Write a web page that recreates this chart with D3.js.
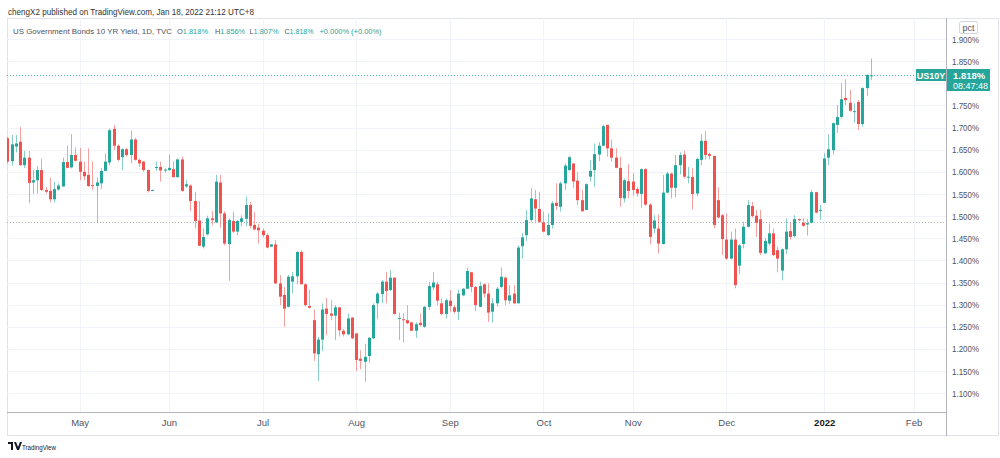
<!DOCTYPE html>
<html><head><meta charset="utf-8">
<script src="https://cdn.jsdelivr.net/npm/d3@7"></script>
<style>
html,body{margin:0;padding:0;background:#fff;}
svg{display:block;font-family:"Liberation Sans",Arial,sans-serif;}
</style></head>
<body><svg id="c" width="1000" height="458"></svg>
<script>
// ---- data (US10Y daily candles, Apr 2021 – Jan 18 2022) ----
const opens = [1.676,1.624,1.657,1.668,1.615,1.632,1.576,1.581,1.604,1.559,1.557,1.538,1.560,1.567,1.622,1.610,1.638,1.623,1.600,1.593,
1.570,1.568,1.574,1.602,1.621,1.697,1.659,1.633,1.651,1.638,1.673,1.627,1.623,1.604,1.557,1.610,1.611,1.604,1.604,1.606,
1.588,1.628,1.567,1.569,1.534,1.490,1.431,1.459,1.495,1.486,1.576,1.506,1.437,1.489,1.465,1.487,1.494,1.525,1.480,1.474,
1.467,1.457,1.431,1.436,1.348,1.322,1.295,1.352,1.364,1.419,1.346,1.297,1.265,1.188,1.221,1.291,1.280,1.275,1.294,1.241,
1.233,1.271,1.235,1.178,1.171,1.184,1.224,1.303,1.324,1.352,1.333,1.361,1.269,1.267,1.265,1.260,1.241,1.259,1.250,1.295,
1.339,1.346,1.303,1.279,1.309,1.294,1.284,1.321,1.336,1.373,1.340,1.295,1.346,1.325,1.284,1.303,1.340,1.361,1.309,1.325,
1.303,1.432,1.457,1.491,1.538,1.516,1.486,1.457,1.480,1.530,1.521,1.574,1.604,1.619,1.580,1.536,1.514,1.589,1.604,1.639,
1.659,1.706,1.653,1.632,1.609,1.540,1.579,1.578,1.561,1.550,1.606,1.526,1.472,1.472,1.437,1.553,1.596,1.564,1.615,1.639,
1.588,1.588,1.551,1.627,1.670,1.640,1.636,1.536,1.502,1.447,1.404,1.447,1.388,1.437,1.476,1.523,1.501,1.493,1.416,1.438,
1.461,1.423,1.377,1.425,1.466,1.455,1.493,1.485,1.481,1.485,1.554,1.512,1.530,1.632,1.649,1.706,1.724,1.767,1.756,1.736,
1.758,1.708,1.789,1.818];
const highs = [1.679,1.683,1.683,1.701,1.647,1.647,1.604,1.613,1.629,1.565,1.587,1.578,1.574,1.632,1.659,1.685,1.655,1.654,1.623,1.653,
1.623,1.587,1.609,1.642,1.698,1.706,1.662,1.653,1.654,1.693,1.677,1.630,1.625,1.605,1.560,1.623,1.623,1.608,1.639,1.624,
1.630,1.634,1.581,1.572,1.555,1.534,1.472,1.501,1.511,1.593,1.593,1.511,1.495,1.510,1.491,1.502,1.544,1.532,1.510,1.483,
1.472,1.461,1.437,1.446,1.367,1.340,1.367,1.374,1.421,1.423,1.348,1.334,1.289,1.227,1.303,1.315,1.310,1.299,1.294,1.245,
1.280,1.271,1.236,1.197,1.212,1.227,1.303,1.329,1.355,1.374,1.378,1.362,1.282,1.280,1.299,1.261,1.260,1.280,1.297,1.352,
1.374,1.352,1.314,1.314,1.333,1.299,1.334,1.337,1.383,1.374,1.342,1.352,1.348,1.348,1.314,1.340,1.384,1.363,1.344,1.344,
1.434,1.462,1.514,1.563,1.559,1.555,1.510,1.506,1.534,1.574,1.578,1.619,1.636,1.619,1.599,1.559,1.574,1.627,1.664,1.667,
1.706,1.706,1.673,1.653,1.634,1.585,1.617,1.597,1.566,1.608,1.609,1.529,1.502,1.504,1.593,1.600,1.598,1.638,1.644,1.648,
1.611,1.608,1.632,1.685,1.692,1.644,1.636,1.565,1.505,1.506,1.465,1.472,1.437,1.487,1.536,1.532,1.514,1.514,1.450,1.483,
1.472,1.431,1.427,1.495,1.485,1.502,1.495,1.495,1.493,1.559,1.555,1.525,1.642,1.685,1.711,1.751,1.800,1.809,1.785,1.755,
1.762,1.791,1.820,1.856];
const lows = [1.619,1.614,1.644,1.614,1.609,1.529,1.550,1.551,1.557,1.551,1.531,1.531,1.557,1.566,1.608,1.608,1.623,1.581,1.581,1.566,
1.559,1.485,1.561,1.602,1.615,1.649,1.624,1.604,1.634,1.619,1.625,1.611,1.600,1.553,1.557,1.602,1.578,1.598,1.602,1.587,
1.587,1.555,1.564,1.511,1.472,1.432,1.427,1.456,1.480,1.484,1.474,1.434,1.354,1.462,1.457,1.477,1.477,1.472,1.468,1.438,
1.452,1.427,1.430,1.346,1.299,1.250,1.294,1.325,1.346,1.346,1.295,1.291,1.173,1.128,1.195,1.231,1.265,1.220,1.228,1.228,
1.231,1.222,1.150,1.154,1.126,1.168,1.222,1.267,1.303,1.303,1.331,1.278,1.220,1.215,1.256,1.241,1.225,1.251,1.248,1.288,
1.333,1.299,1.276,1.269,1.284,1.280,1.265,1.319,1.335,1.328,1.286,1.294,1.316,1.261,1.260,1.295,1.337,1.299,1.301,1.301,
1.303,1.404,1.444,1.487,1.487,1.485,1.463,1.455,1.472,1.514,1.510,1.559,1.602,1.564,1.525,1.510,1.514,1.578,1.566,1.624,
1.658,1.634,1.623,1.608,1.521,1.531,1.540,1.546,1.544,1.519,1.523,1.436,1.461,1.416,1.436,1.551,1.540,1.542,1.594,1.585,
1.574,1.515,1.545,1.615,1.628,1.628,1.472,1.495,1.412,1.401,1.402,1.337,1.369,1.427,1.474,1.497,1.453,1.412,1.414,1.434,
1.410,1.373,1.355,1.414,1.447,1.452,1.489,1.476,1.456,1.484,1.506,1.491,1.529,1.615,1.639,1.688,1.721,1.751,1.736,1.711,
1.694,1.702,1.771,1.807];
const closes = [1.623,1.662,1.664,1.615,1.632,1.575,1.581,1.604,1.559,1.555,1.538,1.561,1.569,1.622,1.609,1.638,1.625,1.600,1.590,1.568,
1.568,1.576,1.602,1.623,1.694,1.659,1.627,1.651,1.638,1.673,1.627,1.619,1.604,1.557,1.559,1.611,1.603,1.605,1.609,1.588,
1.628,1.557,1.572,1.534,1.489,1.433,1.453,1.495,1.491,1.578,1.506,1.438,1.491,1.465,1.489,1.495,1.525,1.478,1.470,1.468,
1.457,1.429,1.436,1.348,1.318,1.291,1.363,1.364,1.419,1.346,1.299,1.293,1.190,1.221,1.289,1.279,1.275,1.294,1.242,1.233,
1.269,1.224,1.175,1.173,1.182,1.225,1.299,1.325,1.352,1.331,1.361,1.279,1.270,1.265,1.258,1.241,1.256,1.254,1.295,1.342,
1.350,1.309,1.279,1.310,1.297,1.284,1.325,1.336,1.376,1.340,1.299,1.342,1.325,1.282,1.303,1.336,1.363,1.310,1.321,1.303,
1.429,1.452,1.491,1.540,1.517,1.487,1.465,1.480,1.529,1.523,1.574,1.614,1.633,1.578,1.536,1.511,1.572,1.602,1.640,1.659,
1.703,1.653,1.632,1.609,1.541,1.581,1.557,1.559,1.551,1.606,1.526,1.453,1.490,1.438,1.553,1.596,1.564,1.615,1.638,1.589,
1.589,1.550,1.629,1.670,1.638,1.636,1.480,1.497,1.448,1.404,1.447,1.344,1.434,1.476,1.525,1.500,1.485,1.417,1.444,1.461,
1.412,1.404,1.425,1.465,1.453,1.493,1.491,1.478,1.484,1.554,1.508,1.514,1.630,1.651,1.710,1.724,1.764,1.762,1.738,1.737,
1.708,1.789,1.819,1.818];
// month labels and the bar index of the first session of each month
const monthLabels = ["May","Jun","Jul","Aug","Sep","Oct","Nov","Dec","2022","Feb"];
const monthBars   = [17,38,60,82,104,126,147,169,192,213];
const priceTicks = [1.100,1.150,1.200,1.250,1.300,1.350,1.400,1.450,1.500,1.550,1.600,1.650,1.700,1.750,1.800,1.850,1.900];
const lastPrice = 1.818;
const refLevel = 1.486;
const headerText = "chengX2 published on TradingView.com, Jan 18, 2022 21:12 UTC+8";
const legendTitle = "US Government Bonds 10 YR Yield, 1D, TVC";
const legendItems = [["O","1.818%"],["H","1.856%"],["L","1.807%"],["C","1.818%"],["","+0.000% (+0.00%)"]];

const UP="#26a69a", DOWN="#ef5350";
const svg = d3.select("#c");
const paneL=7, paneR=946, paneT=18, paneB=412;

const x = d3.scaleLinear().domain([-1.72,220.4]).range([0,945]);
const y = d3.scaleLinear().domain([1.1,1.9]).range([393.2,39]);

// frame
svg.append("rect").attr("x",paneL+0.5).attr("y",paneT+0.5).attr("width",998-paneL).attr("height",435-paneT)
  .attr("fill","none").attr("stroke","#e0e3eb");

// grid
const grid = svg.append("g");
grid.selectAll("line.h").data(priceTicks).join("line")
  .attr("x1",paneL).attr("x2",paneR).attr("y1",d=>Math.round(y(d))+0.5).attr("y2",d=>Math.round(y(d))+0.5)
  .attr("stroke","#f0f3fa");
grid.selectAll("line.v").data(monthBars).join("line")
  .attr("y1",paneT).attr("y2",paneB).attr("x1",d=>Math.round(x(d))+0.5).attr("x2",d=>Math.round(x(d))+0.5)
  .attr("stroke","#f0f3fa");

// reference dotted line
svg.append("line").attr("x1",paneL).attr("x2",paneR)
  .attr("y1",Math.round(y(refLevel))+0.5).attr("y2",Math.round(y(refLevel))+0.5)
  .attr("stroke","#b2b5be").attr("stroke-dasharray","1,2");

// candles
svg.append("clipPath").attr("id","cp").append("rect")
  .attr("x",paneL).attr("y",paneT).attr("width",paneR-paneL).attr("height",paneB-paneT);
const data = opens.map((o,i)=>({i,o,h:highs[i],l:lows[i],c:closes[i]}));
const cg = svg.append("g").attr("clip-path","url(#cp)");
const col = d=>d.c>=d.o?UP:DOWN;
cg.selectAll("rect.w").data(data).join("rect")
  .attr("x",d=>Math.round(x(d.i))).attr("width",1)
  .attr("y",d=>y(d.h)).attr("height",d=>Math.max(1,y(d.l)-y(d.h)))
  .attr("fill",col).attr("opacity",0.55);
cg.selectAll("rect.b").data(data).join("rect")
  .attr("x",d=>Math.round(x(d.i))-1).attr("width",3)
  .attr("y",d=>y(Math.max(d.o,d.c))).attr("height",d=>Math.max(1,Math.abs(y(d.o)-y(d.c))))
  .attr("fill",col);

// last price dotted line
const ly = Math.round(y(lastPrice));
svg.append("line").attr("x1",paneL).attr("x2",916)
  .attr("y1",ly+0.5).attr("y2",ly+0.5)
  .attr("stroke",UP).attr("stroke-dasharray","1,2").attr("opacity",0.8);

// axes separators
svg.append("line").attr("x1",paneR+0.5).attr("x2",paneR+0.5).attr("y1",paneT).attr("y2",436).attr("stroke","#b2b5be");
svg.append("line").attr("x1",paneL).attr("x2",paneR).attr("y1",paneB+0.5).attr("y2",paneB+0.5).attr("stroke","#b2b5be");

// price axis (labels hidden under the last-price tag are not drawn)
const visibleTicks = priceTicks.filter(d=>Math.abs(y(d)-(ly+5))>14);
const ya = svg.append("g").attr("transform",`translate(${paneR},0)`)
  .call(d3.axisRight(y).tickValues(visibleTicks).tickSize(0).tickPadding(6).tickFormat(d=>d.toFixed(3)+"%"));
ya.select(".domain").remove();
ya.selectAll("text").attr("fill","#50535e").attr("font-size",9.5)
  .attr("font-family","Liberation Sans, Arial, sans-serif")
  .attr("textLength",27).attr("lengthAdjust","spacingAndGlyphs");

// pct tag
svg.append("rect").attr("x",959.5).attr("y",21.5).attr("width",18).attr("height",12).attr("rx",2)
  .attr("fill","#fff").attr("stroke","#d1d4dc");
svg.append("text").attr("x",968.5).attr("y",31).attr("text-anchor","middle").attr("font-size",9)
  .attr("fill","#50535e").text("pct");

// time axis
const xa = svg.append("g").attr("transform",`translate(0,${paneB})`)
  .call(d3.axisBottom(x).tickValues(monthBars).tickSize(0).tickPadding(7).tickFormat((d,i)=>monthLabels[i]));
xa.select(".domain").remove();
xa.selectAll("text").attr("font-size",9.5)
  .attr("font-family","Liberation Sans Narrow, Liberation Sans, Arial, sans-serif")
  .attr("font-weight",(d,i)=>monthLabels[i]==="2022"?"bold":"normal")
  .attr("fill",(d,i)=>monthLabels[i]==="2022"?"#131722":"#50535e");

// last price label
svg.append("rect").attr("x",916).attr("y",ly-6).attr("width",30).attr("height",12).attr("fill",UP);
svg.append("text").attr("x",931).attr("y",ly+3.5).attr("text-anchor","middle").attr("font-size",9)
  .attr("font-weight","bold").attr("fill","#fff").text("US10Y");
svg.append("rect").attr("x",947).attr("y",ly-6).attr("width",43).attr("height",22).attr("fill",UP);
svg.append("text").attr("x",953).attr("y",ly+3.5).attr("font-size",9.5).attr("font-weight","bold")
  .attr("fill","#fff").text(lastPrice.toFixed(3)+"%");
svg.append("text").attr("x",953).attr("y",ly+13.5).attr("font-size",9)
  .attr("fill","#fff").text("08:47:48");

// header
svg.append("text").attr("x",8).attr("y",15).attr("font-size",8.3).attr("fill","#333")
  .attr("textLength",246).attr("lengthAdjust","spacingAndGlyphs").text(headerText);
svg.append("text").attr("x",13).attr("y",33.5).attr("font-size",8.0).attr("fill","#50535e")
  .attr("textLength",159).attr("lengthAdjust","spacingAndGlyphs").text(legendTitle);
const lx=[177,215,249.5,284.5,319.5], lw=[31,30,29,29,62];
legendItems.forEach((it,i)=>{
  const t = svg.append("text").attr("x",lx[i]).attr("y",33.5).attr("font-size",8.0)
    .attr("textLength",lw[i]).attr("lengthAdjust","spacingAndGlyphs");
  if(it[0]) t.append("tspan").attr("fill","#50535e").text(it[0]);
  t.append("tspan").attr("fill",UP).text(it[1]);
});

// logo
const logo = svg.append("g").attr("transform","translate(8,442)");
logo.append("path").attr("d","M0,0 H5 V8 H3 V2 H0 Z M6,0 H8 L10,5 L12,0 H14 L11,8 H9 Z").attr("fill","#131722");
svg.append("text").attr("x",22).attr("y",449.5).attr("font-size",8).attr("fill","#131722")
  .attr("textLength",34).attr("lengthAdjust","spacingAndGlyphs").text("TradingView");
</script></body></html>
